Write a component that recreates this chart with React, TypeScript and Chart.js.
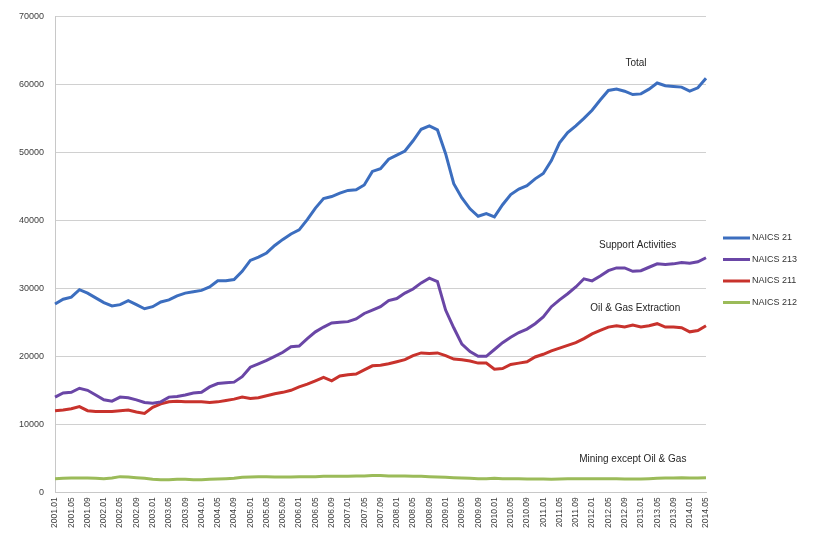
import React, { useEffect, useRef } from "react";
import { Chart, registerables } from "chart.js";

Chart.register(...registerables);

// Categories every two months (ticks shown every four months)
const categories = [
  "2001.01","2001.03","2001.05","2001.07","2001.09","2001.11",
  "2002.01","2002.03","2002.05","2002.07","2002.09","2002.11",
  "2003.01","2003.03","2003.05","2003.07","2003.09","2003.11",
  "2004.01","2004.03","2004.05","2004.07","2004.09","2004.11",
  "2005.01","2005.03","2005.05","2005.07","2005.09","2005.11",
  "2006.01","2006.03","2006.05","2006.07","2006.09","2006.11",
  "2007.01","2007.03","2007.05","2007.07","2007.09","2007.11",
  "2008.01","2008.03","2008.05","2008.07","2008.09","2008.11",
  "2009.01","2009.03","2009.05","2009.07","2009.09","2009.11",
  "2010.01","2010.03","2010.05","2010.07","2010.09","2010.11",
  "2011.01","2011.03","2011.05","2011.07","2011.09","2011.11",
  "2012.01","2012.03","2012.05","2012.07","2012.09","2012.11",
  "2013.01","2013.03","2013.05","2013.07","2013.09","2013.11",
  "2014.01","2014.03","2014.05",
];

const seriesNames = ["NAICS 21", "NAICS 213", "NAICS 211", "NAICS 212"];

const naics21 = [
  27700, 28400, 28700, 29800, 29300, 28600, 27900, 27400, 27600, 28200,
  27600, 27000, 27300, 28000, 28300, 28900, 29300, 29500, 29700, 30200,
  31100, 31100, 31300, 32500, 34100, 34600, 35200, 36300, 37200, 38000,
  38600, 40100, 41800, 43200, 43500, 44000, 44400, 44500, 45200, 47200,
  47600, 49000, 49600, 50200, 51700, 53400, 53900, 53300, 49800, 45400,
  43300, 41700, 40600, 41000, 40500, 42300, 43800, 44600, 45100, 46100,
  46900, 48800, 51400, 52900, 53900, 55000, 56200, 57700, 59100, 59300,
  59000, 58500, 58600, 59300, 60200, 59800, 59700, 59600, 59000, 59500,
  60900,
];

const naics213 = [
  14000, 14600, 14700, 15300, 15000, 14300, 13600, 13400, 14000, 13900,
  13600, 13200, 13100, 13300, 14000, 14100, 14300, 14600, 14700, 15500,
  16000, 16100, 16200, 17000, 18400, 18900, 19400, 20000, 20600, 21400,
  21500, 22600, 23600, 24300, 24900, 25000, 25100, 25500, 26300, 26800,
  27300, 28200, 28500, 29300, 29900, 30800, 31500, 31000, 26800, 24200,
  21800, 20700, 20000, 20000, 21000, 22000, 22800, 23500, 24000, 24800,
  25800, 27300, 28300, 29200, 30200, 31400, 31100, 31800, 32600, 33000,
  33000, 32500, 32600, 33100, 33600, 33500, 33600, 33800, 33700, 33900,
  34500,
];

const naics211 = [
  12000, 12100, 12300, 12600, 12000, 11900, 11900, 11900, 12000, 12100,
  11800, 11600, 12500, 13000, 13300, 13400, 13300, 13300, 13300, 13200,
  13300, 13500, 13700, 14000, 13800, 13900, 14200, 14500, 14700, 15000,
  15500, 15900, 16400, 16900, 16400, 17100, 17300, 17400, 18000, 18600,
  18700, 18900, 19200, 19500, 20100, 20500, 20400, 20500, 20100, 19600,
  19500, 19300, 19000, 19000, 18100, 18200, 18800, 19000, 19200, 19900,
  20300, 20800, 21200, 21600, 22000, 22600, 23300, 23800, 24300, 24500,
  24300, 24600, 24300, 24500, 24800, 24300, 24300, 24200, 23600, 23800,
  24500,
];

const naics212 = [
  2000, 2050, 2100, 2100, 2100, 2050, 2000, 2100, 2300, 2250,
  2150, 2050, 1900, 1850, 1850, 1900, 1900, 1850, 1850, 1900,
  1950, 2000, 2050, 2200, 2250, 2300, 2300, 2250, 2250, 2250,
  2300, 2300, 2300, 2350, 2350, 2350, 2350, 2400, 2400, 2450,
  2450, 2400, 2400, 2400, 2350, 2350, 2300, 2250, 2200, 2150,
  2100, 2050, 2000, 2000, 2050, 2000, 2000, 2000, 1950, 1950,
  1950, 1900, 1950, 2000, 2000, 2000, 2000, 2000, 2000, 2000,
  1950, 1950, 1950, 2000, 2050, 2100, 2100, 2150, 2100, 2100,
  2150,
];

const yMin = 0;
const yMax = 70000;
const yStep = 10000;

const annotationTexts = ["Total", "Support Activities", "Oil & Gas Extraction", "Mining except Oil & Gas"];
// anchor in data space: [category index, value]
const annotationAnchors: [number, number][] = [
  [71.4, 63100],
  [71.6, 36400],
  [71.3, 27000],
  [71.0, 4900],
];

const colors = ["#3c6ebf", "#6a46a6", "#c8322c", "#9bbb59"];
const FONT = "'Liberation Sans', Arial, sans-serif";

const overlayPlugin = {
  id: "overlay",
  afterDraw(chart: any) {
    const ctx = chart.ctx;
    const xs = chart.scales.x;
    const ys = chart.scales.y;
    ctx.save();
    ctx.fillStyle = "#262626";
    ctx.font = `10px ${FONT}`;
    ctx.textAlign = "center";
    ctx.textBaseline = "middle";
    annotationTexts.forEach((t, i) => {
      const [ix, v] = annotationAnchors[i];
      ctx.fillText(t, xs.getPixelForValue(ix), ys.getPixelForValue(v));
    });
    const lx = chart.chartArea.right + 17;
    const top = 238;
    const gap = 21.5;
    ctx.textAlign = "left";
    ctx.font = `9px ${FONT}`;
    chart.data.datasets.forEach((ds: any, i: number) => {
      const y = top + i * gap;
      ctx.strokeStyle = ds.borderColor;
      ctx.lineWidth = 3;
      ctx.beginPath();
      ctx.moveTo(lx, y);
      ctx.lineTo(lx + 27, y);
      ctx.stroke();
      ctx.fillStyle = "#333333";
      ctx.fillText(ds.label, lx + 29, y);
    });
    ctx.restore();
  },
};

export default function App() {
  const ref = useRef<HTMLCanvasElement | null>(null);
  useEffect(() => {
    document.body.style.margin = "0";
    const canvas = ref.current;
    if (!canvas) return;
    const series = [naics21, naics213, naics211, naics212];
    const chart = new Chart(canvas, {
      type: "line",
      data: {
        labels: categories,
        datasets: series.map((d, i) => ({
          label: seriesNames[i],
          data: d,
          borderColor: colors[i],
          backgroundColor: colors[i],
          borderWidth: 3,
          pointRadius: 0,
          tension: 0,
          fill: false,
        })),
      },
      options: {
        responsive: false,
        animation: false,
        layout: { padding: { left: 8, right: 109, top: 9, bottom: 2 } },
        plugins: {
          legend: { display: false },
          tooltip: { enabled: false },
          title: { display: false },
        },
        scales: {
          x: {
            type: "category",
            offset: false,
            grid: { display: false, drawTicks: false },
            border: { display: true, color: "#c8c8c8", width: 1 },
            ticks: {
              autoSkip: false,
              maxRotation: 90,
              minRotation: 90,
              padding: 5,
              color: "#404040",
              font: { size: 8.5, family: FONT },
              callback: (_v: any, i: number) => (i % 2 === 0 ? categories[i] : ""),
            },
          },
          y: {
            min: yMin,
            max: yMax,
            grid: { color: "#d0d0d0", lineWidth: 1, drawTicks: false },
            border: { display: true, color: "#c8c8c8", width: 1 },
            ticks: {
              stepSize: yStep,
              padding: 11,
              color: "#404040",
              font: { size: 9, family: FONT },
              callback: (v: any) => String(v),
            },
          },
        },
      },
      plugins: [overlayPlugin],
    } as any);
    return () => chart.destroy();
  }, []);
  return (
    <div style={{ width: 815, height: 535, background: "#ffffff" }}>
      <canvas ref={ref} width={815} height={535} />
    </div>
  );
}
